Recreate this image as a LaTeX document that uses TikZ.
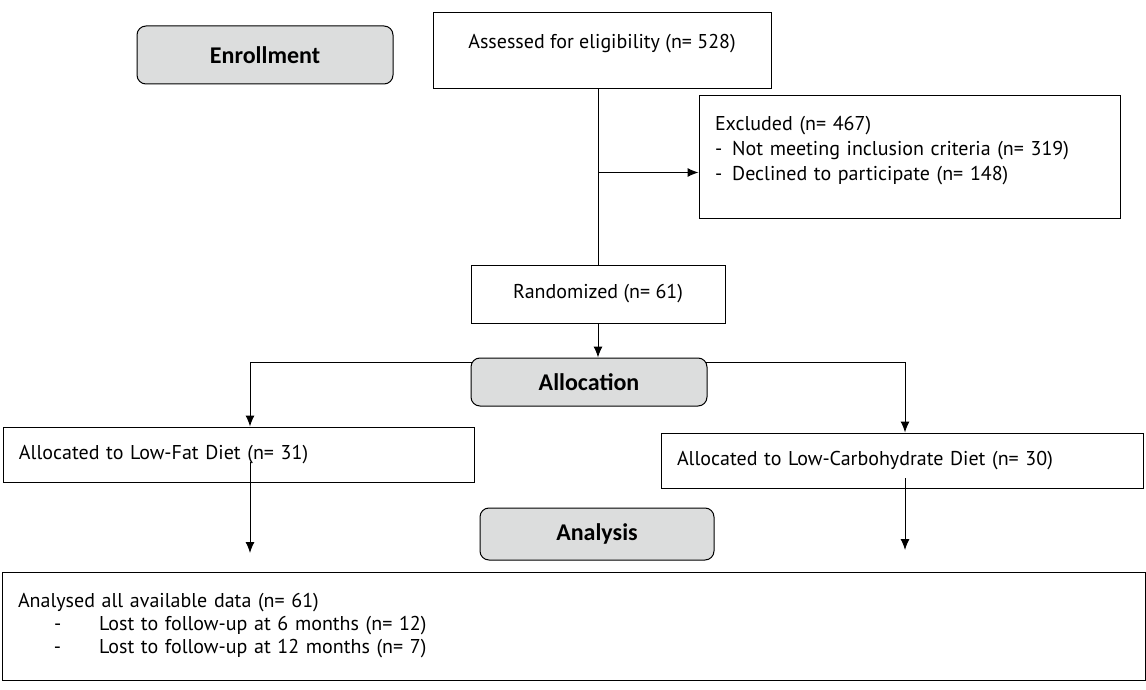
\documentclass[tikz,border=0pt]{standalone}
\usepackage{fontspec}
\setmainfont{PT Sans}
\newfontfamily\headfont{Carlito}
\usetikzlibrary{arrows.meta,positioning}
\definecolor{boxgray}{RGB}{220,221,221}
\tikzstyle{block} = [rectangle, draw, line width=1pt, inner sep=0pt, font=\fontsize{20}{25}\selectfont]
\tikzstyle{stage} = [rectangle, draw, line width=1pt, fill=boxgray, rounded corners=9pt,
    font=\headfont\bfseries\fontsize{24}{26}\selectfont]
\tikzstyle{line} = [draw, line width=1pt, -{Latex[length=11pt,width=9pt]}]

\begin{document}
\begin{tikzpicture}[x=1pt,y=-1pt]
    \useasboundingbox (0,0) rectangle (1146,690);
    % Split line behind allocation
    \coordinate (splitL) at (250,362);
    \coordinate (splitR) at (905,362);
    \draw [line width=1pt] (splitL) -- (splitR);
    % Place nodes
    \node [stage, minimum width=256, minimum height=58] (enroll) at (265,55) {Enrollment};
    \node [block, minimum width=338, text height=33pt, text depth=37pt, inner ysep=3pt] (assess) at (602,51) {Assessed for eligibility (n= 528)};
    \node [block, minimum width=405, minimum height=122, text width=389pt, inner xsep=16pt, align=left] (excl) at (909.5,157) {Excluded (n= 467)\\- \,Not meeting inclusion criteria (n= 319)\\- \,Declined to participate (n= 148)\\[-8pt]\mbox{}};
    \node [block, minimum width=254, minimum height=58] (random) at (598,294) {Randomized (n= 61)};
    \node [stage, minimum width=236, minimum height=48] (alloc) at (589,382) {Allocation};
    \node [block, minimum width=455, minimum height=55, text width=439pt, inner xsep=16pt, align=left] (lowfat) at (238.5,454.5) {Allocated to Low-Fat Diet (n= 31)};
    \node [block, minimum width=466, minimum height=55, text width=450pt, inner xsep=16pt, align=left] (lowcarb) at (902,460.5) {Allocated to Low-Carbohydrate Diet (n= 30)};
    \node [stage, minimum width=234, minimum height=52] (analysis) at (597,534) {Analysis};
    \node [block, minimum width=1127, minimum height=108, font=\fontsize{20}{23}\selectfont, text width=1111pt, inner xsep=16pt, align=left] (analysed) at (573.5,626) {Analysed all available data (n= 61)\\\hspace*{36pt}-\hspace{38pt}Lost to follow-up at 6 months (n= 12)\\\hspace*{36pt}-\hspace{38pt}Lost to follow-up at 12 months (n= 7)};
    % Draw edges
    \coordinate (branch) at (598,172.5);
    \coordinate (startL) at (250,462);
    \coordinate (endL) at (250,553);
    \coordinate (startR) at (905,478);
    \coordinate (endR) at (905,550);
    \draw [line width=1pt] (assess.south -| random.north) -- (random.north);
    \path [line] (branch) -- (branch -| excl.west);
    \path [line] (random.south) -- (random.south |- alloc.north);
    \path [line] (splitL) -- (splitL |- lowfat.north);
    \path [line] (splitR) -- (splitR |- lowcarb.north);
    \path [line] (startL) -- (endL);
    \path [line] (startR) -- (endR);

\end{tikzpicture}
\end{document}
